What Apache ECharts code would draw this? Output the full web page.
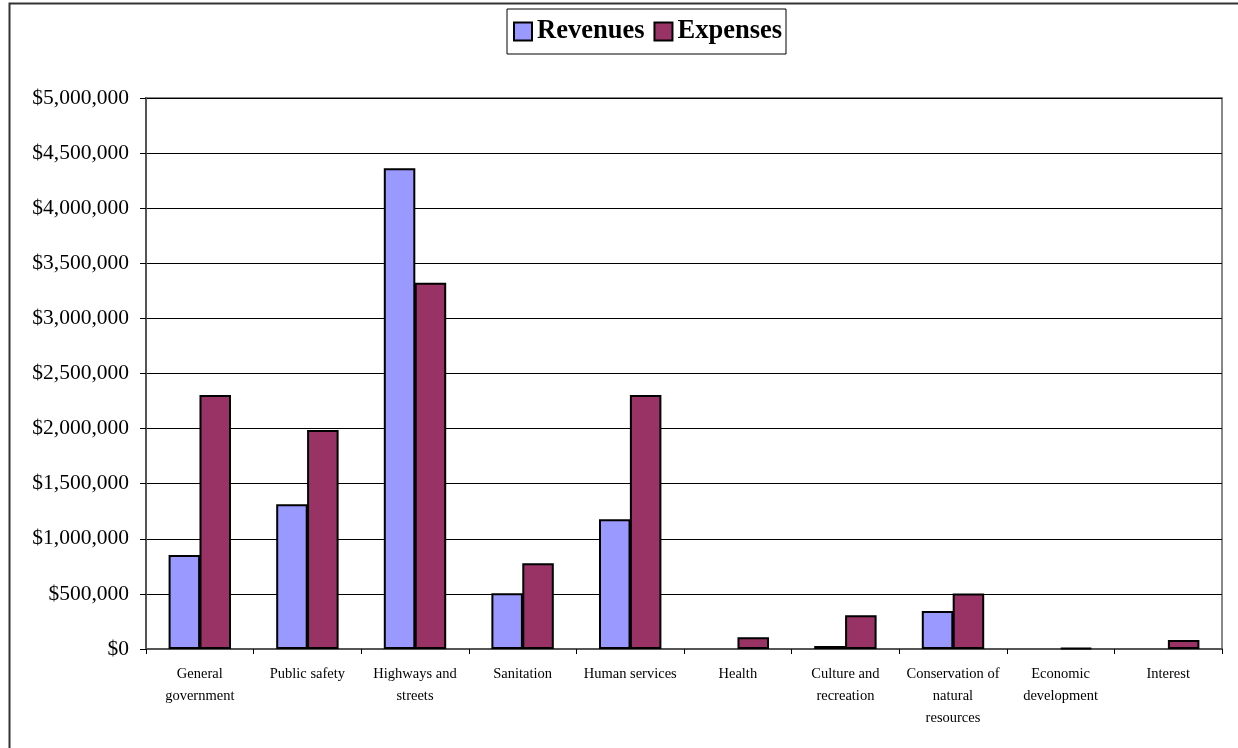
<!DOCTYPE html>
<html>
<head>
<meta charset="utf-8">
<script src="https://cdn.jsdelivr.net/npm/echarts@6/dist/echarts.min.js"></script>
<style>
html,body{margin:0;padding:0;background:#fff;}
#chart{width:1238px;height:748px;}
</style>
</head>
<body>
<div id="chart"></div>
<script>
const categories = ["General government","Public safety","Highways and streets","Sanitation","Human services","Health","Culture and recreation","Conservation of natural resources","Economic development","Interest"];
const tickLabels = ["General\ngovernment","Public safety","Highways and\nstreets","Sanitation","Human services","Health","Culture and\nrecreation","Conservation of\nnatural\nresources","Economic\ndevelopment","Interest"];
const revenues = [853000,1313000,4362000,505000,1177000,0,27000,345000,0,0];
const expenses = [2305000,1987000,3324000,778000,2305000,106000,306000,504000,8000,82000];
const yMin = 0, yMax = 5000000, yStep = 500000;

// zero values draw no bar (as in the reference)
const hideZero = arr => arr.map(v => v === 0 ? '-' : v);

const chart = echarts.init(document.getElementById('chart'));
const serif = "'Liberation Serif','Times New Roman',serif";
chart.setOption({
  animation:false,
  backgroundColor:'#fff',
  graphic:[{type:'rect',left:7,top:1,shape:{width:1240,height:760},style:{fill:'none',stroke:'#333',lineWidth:2},silent:true}],
  legend:{
    data:['Revenues','Expenses'],
    left:507, top:9,
    padding:[9,4,9,6],
    borderColor:'#000', borderWidth:1,
    itemWidth:18, itemHeight:18, itemGap:9,
    icon:'rect',
    textStyle:{fontFamily:serif,fontWeight:'bold',fontSize:26.5,color:'#000'}
  },
  grid:{left:146,right:16,top:98,bottom:99,show:true,borderColor:'#888',borderWidth:2},
  xAxis:{
    type:'category',
    data:categories,
    axisLine:{lineStyle:{color:'#555',width:2}},
    axisTick:{show:true,length:5,lineStyle:{color:'#000'}},
    axisLabel:{
      interval:0,margin:14,lineHeight:22,
      fontFamily:serif,fontSize:14.5,color:'#000',
      formatter:function(v,i){return tickLabels[i];}
    }
  },
  yAxis:{
    type:'value',min:yMin,max:yMax,interval:yStep,
    axisLine:{show:true,lineStyle:{color:'#555',width:2}},
    axisTick:{show:true,length:6,lineStyle:{color:'#000'}},
    splitLine:{lineStyle:{color:'#000',width:1}},
    axisLabel:{
      margin:17,fontFamily:serif,fontSize:21.5,color:'#000',
      formatter:function(v){return '$'+v.toLocaleString('en-US');}
    }
  },
  series:[
    {name:'Revenues',type:'bar',data:hideZero(revenues),barGap:'-2%',barCategoryGap:'42%',
     itemStyle:{color:'#9999FF',borderColor:'#000',borderWidth:2}},
    {name:'Expenses',type:'bar',data:hideZero(expenses),barGap:'-2%',barCategoryGap:'42%',
     itemStyle:{color:'#993366',borderColor:'#000',borderWidth:2}}
  ]
});
</script>
</body>
</html>
